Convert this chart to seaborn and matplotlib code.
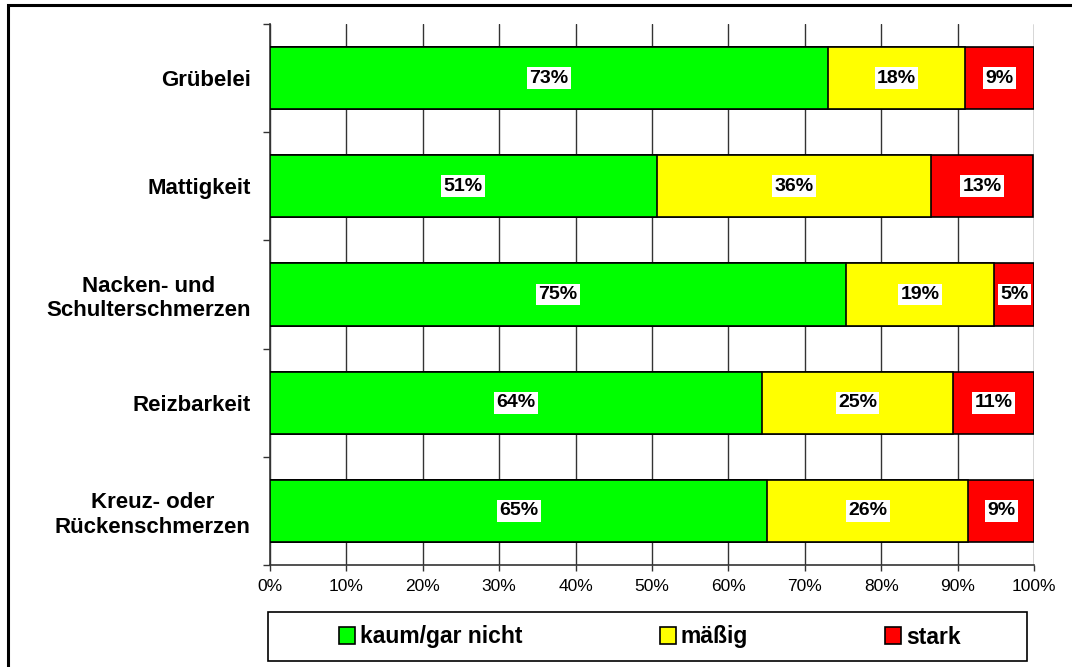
import matplotlib
matplotlib.use("Agg")
import matplotlib.pyplot as plt
import numpy as np
import pandas as pd
import seaborn as sns
from matplotlib.patches import Rectangle
from matplotlib.ticker import FixedLocator, PercentFormatter

# --- data ---
categories = [
    "Grübelei",
    "Mattigkeit",
    "Nacken- und\nSchulterschmerzen",
    "Reizbarkeit",
    "Kreuz- oder\nRückenschmerzen",
]
series_names = ["kaum/gar nicht", "mäßig", "stark"]
kaum = [73.0, 50.6, 75.4, 64.4, 65.1]
maessig = [18.0, 35.9, 19.4, 25.0, 26.3]
stark = [9.0, 13.4, 5.2, 10.6, 8.6]
colors = ["#00ff00", "#ffff00", "#ff0000"]
x_ticks = [0, 10, 20, 30, 40, 50, 60, 70, 80, 90, 100]

sns.set_theme(style="white")
plt.rcParams["font.family"] = ["Liberation Sans", "DejaVu Sans"]
plt.rcParams["text.color"] = "black"
plt.rcParams["xtick.color"] = "black"
plt.rcParams["ytick.color"] = "black"

df = pd.DataFrame({"Kategorie": categories, series_names[0]: kaum,
                   series_names[1]: maessig, series_names[2]: stark})
cum = df[series_names].cumsum(axis=1)
cum["Kategorie"] = df["Kategorie"]

fig = plt.figure(figsize=(10.72, 6.67), dpi=100)
ax = fig.add_axes([270 / 1072, 1 - 565 / 667, 764 / 1072, 541 / 667])

# stacked bars: draw cumulative totals from the back to the front
for name, col in reversed(list(zip(series_names, colors))):
    sns.barplot(data=cum, x=name, y="Kategorie",
                color=col, edgecolor="black", linewidth=1.2, width=0.574,
                saturation=1, orient="h", ax=ax, label=name, zorder=3)
h, l = ax.get_legend_handles_labels()
if ax.get_legend() is not None:
    ax.get_legend().remove()

# value labels centered in each segment
for i, cat in enumerate(categories):
    left = 0.0
    for name in series_names:
        v = df.loc[i, name]
        ax.text(left + v / 2, i, f"{v:.0f}%", ha="center", va="center",
                fontsize=14, fontweight="bold", zorder=5,
                bbox=dict(boxstyle="square,pad=0.12", fc="white", ec="none"))
        left += v

ax.set_xlim(0, 100)
ax.set_ylim(len(categories) - 0.5, -0.5)
ax.xaxis.set_major_locator(FixedLocator(x_ticks))
ax.xaxis.set_major_formatter(PercentFormatter(decimals=0))
ax.grid(axis="x", color="#333333", linewidth=1, zorder=0)
ax.set_axisbelow(True)
ax.set_xlabel("")
ax.set_ylabel("")

for s in ["top", "right"]:
    ax.spines[s].set_visible(False)
for s in ["left", "bottom"]:
    ax.spines[s].set_color("#333333")
    ax.spines[s].set_linewidth(1.2)

ax.yaxis.set_minor_locator(FixedLocator(np.arange(-0.5, len(categories), 1.0)))
ax.tick_params(axis="y", which="major", length=0, pad=14)
ax.tick_params(axis="y", which="minor", left=True, length=5, width=1, color="#333333")
ax.tick_params(axis="x", which="major", bottom=True, length=4, width=1,
               color="#333333", labelsize=12.5, pad=6)
for lab in ax.get_yticklabels():
    lab.set_fontsize(16)
    lab.set_fontweight("bold")
    lab.set_multialignment("center")

# legend box below the plot
order = [l.index(n) for n in series_names]
leg = fig.legend([h[k] for k in order], [l[k] for k in order], ncol=3,
                 loc="center", bbox_to_anchor=(650 / 1072, 1 - 637 / 667),
                 frameon=False, prop={"weight": "bold", "size": 16.5},
                 handlelength=0.7, handleheight=0.7, handletextpad=0.2,
                 columnspacing=6.0)
fig.patches.append(Rectangle((268 / 1072, 1 - 661 / 667), 759 / 1072, 49 / 667,
                             transform=fig.transFigure, fill=False,
                             ec="black", lw=1.2))
# outer frame
fig.patches.append(Rectangle((8 / 1072, -0.05), 1.1, 1.05 - 5 / 667,
                             transform=fig.transFigure, fill=False,
                             ec="black", lw=2.2))

fig.savefig("out.png", dpi=100)
